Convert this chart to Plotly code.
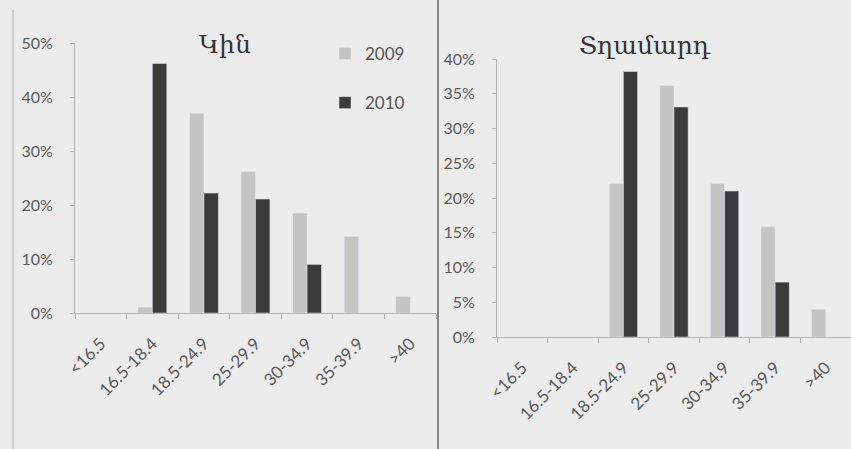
import plotly.graph_objects as go

categories = ["<16.5", "16.5-18.4", "18.5-24.9", "25-29.9", "30-34.9", "35-39.9", ">40"]
women_2009 = [0.0, 0.011, 0.37, 0.262, 0.185, 0.142, 0.031]
women_2010 = [0.0, 0.462, 0.222, 0.211, 0.09, 0.0, 0.0]
men_2009 = [0.0, 0.0, 0.221, 0.362, 0.221, 0.159, 0.04]
men_2010 = [0.0, 0.0, 0.382, 0.331, 0.21, 0.079, 0.0]
title_women = "Կին"
title_men = "Տղամարդ"
series_names = ["2009", "2010"]

W, H = 851, 449
c09 = "#c4c4c4"
c10 = "#3b3b3b"
bg = "#ececec"
tick_font = dict(family="Lato, Open Sans, sans-serif", size=16, color="#5a5a5a")
xtick_font = dict(family="Lato, Open Sans, sans-serif", size=17, color="#5a5a5a")

fig = go.Figure()
fig.add_trace(go.Bar(x=categories, y=women_2009, name=series_names[0], marker_color=c09,
                     xaxis="x", yaxis="y", legendgroup="a", offsetgroup="a"))
fig.add_trace(go.Bar(x=categories, y=women_2010, name=series_names[1], marker_color=c10,
                     xaxis="x", yaxis="y", legendgroup="b", offsetgroup="b"))
fig.add_trace(go.Bar(x=categories, y=men_2009, name=series_names[0], marker_color=c09,
                     xaxis="x2", yaxis="y2", showlegend=False, legendgroup="a", offsetgroup="a"))
fig.add_trace(go.Bar(x=categories, y=men_2010, name=series_names[1], marker_color=c10,
                     xaxis="x2", yaxis="y2", showlegend=False, legendgroup="b", offsetgroup="b"))

xcommon = dict(type="category", showline=True, linecolor="#b5b5b5", linewidth=1,
               ticks="outside", tickson="boundaries", ticklen=5, tickcolor="#b5b5b5",
               tickangle=-45, tickfont=xtick_font, showgrid=False, zeroline=False,
               fixedrange=True, ticklabelstandoff=13, automargin=False)
ycommon = dict(showline=True, linecolor="#b5b5b5", linewidth=1, ticks="outside", ticklen=4,
               tickcolor="#b5b5b5", tickformat=".0%", tickfont=tick_font, showgrid=False,
               zeroline=False, ticklabelstandoff=14, automargin=False, fixedrange=True)

fig.update_layout(
    width=W, height=H,
    margin=dict(l=0, r=0, t=0, b=0, autoexpand=False),
    paper_bgcolor=bg, plot_bgcolor=bg,
    barmode="group", bargap=0.44, bargroupgap=0.0,
    xaxis=dict(xcommon, domain=[75 / W, 436 / W], range=[-0.5, 6.5], anchor="y"),
    yaxis=dict(ycommon, domain=[136 / H, 406 / H], range=[0, 0.5], dtick=0.1, anchor="x"),
    xaxis2=dict(xcommon, domain=[497 / W, 1.0], range=[-0.5, 6.5], anchor="y2"),
    yaxis2=dict(ycommon, domain=[112 / H, 390 / H], range=[0, 0.4], dtick=0.05, anchor="x2"),
    legend=dict(x=325 / W, y=1 - 36 / H, xanchor="left", yanchor="top",
                bgcolor="rgba(0,0,0,0)", font=dict(family="Lato, Open Sans, sans-serif", size=17, color="#555"),
                traceorder="grouped", tracegroupgap=24, itemwidth=30),
    showlegend=True,
    annotations=[
        dict(text=title_women, x=225 / W, y=1 - 44 / H, xref="paper", yref="paper",
             xanchor="center", yanchor="middle", showarrow=False,
             font=dict(family="DejaVu Serif, serif", size=25, color="#333")),
        dict(text=title_men, x=645 / W, y=1 - 46 / H, xref="paper", yref="paper",
             xanchor="center", yanchor="middle", showarrow=False,
             font=dict(family="DejaVu Serif, serif", size=25, color="#333")),
    ],
    shapes=[
        dict(type="line", xref="paper", yref="paper", x0=13 / W, x1=13 / W, y0=0, y1=1 - 10 / H,
             line=dict(color="#aaaaaa", width=1)),
        dict(type="line", xref="paper", yref="paper", x0=438 / W, x1=438 / W, y0=0, y1=1,
             line=dict(color="#666666", width=1.5)),
    ],
)

fig.write_html("out.html", config={"displayModeBar": False},
               post_script="document.body.style.margin='0';document.body.style.overflow='hidden';")
